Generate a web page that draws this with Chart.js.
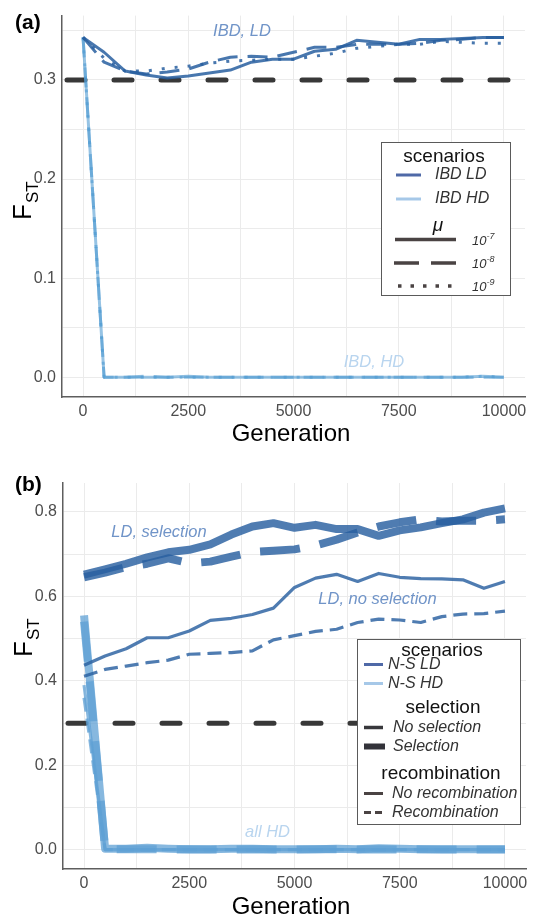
<!DOCTYPE html>
<html><head><meta charset="utf-8">
<script src="https://cdn.jsdelivr.net/npm/chart.js@4.4.1/dist/chart.umd.min.js"></script>
<style>
html,body{margin:0;padding:0;background:#fff;}
#wrap{position:relative;width:535px;height:915px;overflow:hidden;background:#fff;}
#ca{position:absolute;left:0;top:0;}
#cb{position:absolute;left:0;top:450px;}
</style></head><body>
<div id="wrap"><canvas id="ca" width="535" height="450"></canvas><canvas id="cb" width="535" height="465"></canvas></div>
<script>
// ---------- data ----------
const generations = [0,500,1000,1500,2000,2500,3000,3500,4000,4500,5000,5500,6000,6500,7000,7500,8000,8500,9000,9500,10000];
const xGridValues = [0,1250,2500,3750,5000,6250,7500,8750,10000];
const xTickLabels = [0,2500,5000,7500,10000];
const yGridA = [0,0.05,0.1,0.15,0.2,0.25,0.3,0.35];
const yTicksA = [0,0.1,0.2,0.3];
const yGridB = [0,0.1,0.2,0.3,0.4,0.5,0.6,0.7,0.8];
const yTicksB = [0,0.2,0.4,0.6,0.8];
const referenceFst = 0.3;

// panel (a): IBD scenarios, three mutation rates
const ibdLD_mu7 = [0.343,0.328,0.309,0.305,0.302,0.304,0.307,0.310,0.318,0.321,0.321,0.329,0.331,0.340,0.338,0.336,0.341,0.341,0.342,0.343,0.343];
const ibdLD_mu8 = [0.343,0.318,0.309,0.306,0.308,0.311,0.318,0.323,0.324,0.323,0.328,0.333,0.333,0.336,0.336,0.336,0.337,0.340,0.341,0.343,0.343];
const ibdLD_mu9 = [0.343,0.322,0.309,0.309,0.312,0.314,0.317,0.319,0.320,0.321,0.321,0.324,0.327,0.332,0.334,0.336,0.336,0.339,0.338,0.337,0.337];
const ibdHD_mu7 = [0.343,0.000,0.000,0.000,0.000,0.001,0.000,0.000,0.000,0.000,0.000,0.000,0.000,0.000,0.000,0.000,0.000,0.000,0.000,0.001,0.000];
const ibdHD_mu8 = [0.343,0.000,0.000,0.001,0.000,0.000,0.000,0.000,0.000,0.000,0.000,0.000,0.000,0.000,0.000,0.000,0.000,0.000,0.000,0.000,0.000];
const ibdHD_mu9 = [0.343,0.000,0.000,0.000,0.000,0.000,0.000,0.000,0.000,0.000,0.000,0.000,0.000,0.000,0.000,0.000,0.000,0.000,0.000,0.001,0.000];

// panel (b): N-S scenarios, selection x recombination
const nsLD_sel_norec   = [0.651,0.664,0.677,0.692,0.704,0.710,0.723,0.746,0.765,0.773,0.762,0.769,0.759,0.759,0.743,0.756,0.763,0.773,0.782,0.798,0.808];
const nsLD_sel_rec     = [0.645,0.656,0.669,0.677,0.690,0.678,0.682,0.694,0.705,0.708,0.711,0.720,0.734,0.751,0.765,0.775,0.782,0.777,0.779,0.779,0.782];
const nsLD_nosel_norec = [0.437,0.459,0.476,0.502,0.502,0.518,0.543,0.548,0.557,0.572,0.621,0.643,0.652,0.635,0.654,0.645,0.642,0.641,0.639,0.619,0.635];
const nsLD_nosel_rec   = [0.411,0.427,0.435,0.443,0.449,0.463,0.465,0.467,0.471,0.497,0.507,0.517,0.522,0.538,0.546,0.544,0.538,0.552,0.558,0.559,0.565];
const nsHD_sel_norec   = [0.555,0.003,0.003,0.005,0.003,0.002,0.002,0.003,0.003,0.002,0.002,0.002,0.003,0.002,0.004,0.003,0.002,0.002,0.002,0.002,0.002];
const nsHD_sel_rec     = [0.540,0.002,0.002,0.002,0.001,0.002,0.001,0.001,0.002,0.001,0.001,0.002,0.002,0.001,0.002,0.001,0.002,0.001,0.001,0.001,0.001];
const nsHD_nosel_norec = [0.390,0.001,0.001,0.001,0.001,0.001,0.001,0.001,0.001,0.001,0.001,0.001,0.001,0.001,0.001,0.001,0.001,0.001,0.001,0.001,0.001];
const nsHD_nosel_rec   = [0.360,0.001,0.001,0.001,0.001,0.001,0.001,0.001,0.001,0.001,0.001,0.001,0.001,0.001,0.001,0.001,0.001,0.001,0.001,0.001,0.001];

// ---------- styling ----------
const FONT = '"Liberation Sans", Arial, Helvetica, sans-serif';
const LD_COL = 'rgba(40,95,160,0.82)';
const HD_COL = 'rgba(95,160,212,0.75)';
const HD_COL_A = 'rgba(80,155,210,0.6)';
const REF_COL = '#383838';

function series(values, color, width, dash) {
  return {
    data: generations.map((g, i) => ({x: g, y: values[i]})),
    borderColor: color, borderWidth: width, borderDash: dash || [],
    borderJoinStyle: 'round', borderCapStyle: 'butt',
    pointRadius: 0, pointHoverRadius: 0, tension: 0, fill: false
  };
}
function refLine(level) {
  return {
    data: [{x: -500, y: level}, {x: 10500, y: level}],
    borderColor: REF_COL, borderWidth: 5, borderDash: [18, 29], borderDashOffset: -5,
    borderCapStyle: 'round', pointRadius: 0, pointHoverRadius: 0, fill: false
  };
}
function isTick(list, v) { return list.some(t => Math.abs(t - v) < 1e-9); }

function scalesFor(yMin, yMax, yGrid, yTicks, yWidth, xHeight) {
  return {
    x: {
      type: 'linear', min: -500, max: 10500,
      afterBuildTicks: s => { s.ticks = xGridValues.map(v => ({value: v})); },
      ticks: {autoSkip: false, maxRotation: 0, padding: 5,
              color: '#4d4d4d', font: {family: FONT, size: 16},
              callback: v => isTick(xTickLabels, v) ? String(v) : ''},
      grid: {color: '#ebebeb', lineWidth: 1, drawTicks: false},
      border: {display: true, color: '#5e5e5e', width: 1.5},
      afterFit: s => { s.height = xHeight; }
    },
    y: {
      type: 'linear', min: yMin, max: yMax,
      afterBuildTicks: s => { s.ticks = yGrid.map(v => ({value: v})); },
      ticks: {autoSkip: false, padding: 6,
              color: '#4d4d4d', font: {family: FONT, size: 16},
              callback: v => isTick(yTicks, v) ? v.toFixed(1) : ''},
      grid: {color: '#ebebeb', lineWidth: 1, drawTicks: false},
      border: {display: true, color: '#5e5e5e', width: 1.5},
      afterFit: s => { s.width = yWidth; }
    }
  };
}

// ---------- drawing helpers ----------
function txt(ctx, s, x, y, font, color, align, base) {
  ctx.font = font; ctx.fillStyle = color; ctx.textAlign = align || 'left';
  ctx.textBaseline = base || 'middle'; ctx.fillText(s, x, y);
}
function seg(ctx, x1, x2, y, w, color, dash, cap) {
  ctx.save(); ctx.beginPath(); ctx.setLineDash(dash || []); ctx.lineCap = cap || 'butt';
  ctx.strokeStyle = color; ctx.lineWidth = w; ctx.moveTo(x1, y); ctx.lineTo(x2, y); ctx.stroke(); ctx.restore();
}
function fst(ctx, xBase, yStart) {
  ctx.save(); ctx.translate(xBase, yStart); ctx.rotate(-Math.PI / 2);
  ctx.fillStyle = '#000'; ctx.textAlign = 'left'; ctx.textBaseline = 'alphabetic';
  ctx.font = '26px ' + FONT; ctx.fillText('F', 0, 0);
  const w = ctx.measureText('F').width;
  ctx.font = '17px ' + FONT; ctx.fillText('ST', w + 1, 7);
  ctx.restore();
}
function power(ctx, x, y, exp) {
  ctx.font = 'italic 13px ' + FONT; ctx.fillStyle = '#333'; ctx.textAlign = 'left'; ctx.textBaseline = 'middle';
  ctx.fillText('10', x, y);
  const w = ctx.measureText('10').width;
  ctx.font = 'italic 9px ' + FONT; ctx.fillText(exp, x + w, y - 5);
}
function box(ctx, x1, y1, x2, y2) {
  ctx.fillStyle = '#fff'; ctx.fillRect(x1, y1, x2 - x1, y2 - y1);
  ctx.strokeStyle = '#5a5a5a'; ctx.lineWidth = 1; ctx.strokeRect(x1 + 0.5, y1 + 0.5, x2 - x1 - 1, y2 - y1 - 1);
}

// ---------- panel (a) ----------
const plugA = {
  id: 'annotA',
  afterDraw(chart) {
    const ctx = chart.ctx; ctx.save();
    txt(ctx, '(a)', 15, 23, 'bold 21px ' + FONT, '#000');
    fst(ctx, 31, 220);
    txt(ctx, 'Generation', 291, 434, '24px ' + FONT, '#000', 'center');
    txt(ctx, 'IBD, LD', 242, 31, 'italic 16.5px ' + FONT, '#7094c8', 'center');
    txt(ctx, 'IBD, HD', 374, 362, 'italic 16.5px ' + FONT, '#b9d5ef', 'center');
    // legend
    box(ctx, 381, 142, 511, 296);
    txt(ctx, 'scenarios', 444, 157, '19px ' + FONT, '#111', 'center');
    seg(ctx, 396, 421, 175, 3, '#4f69a7');
    txt(ctx, 'IBD LD', 435, 175, 'italic 16px ' + FONT, '#333');
    seg(ctx, 396, 421, 199, 3, '#a6c8e8');
    txt(ctx, 'IBD HD', 435, 199, 'italic 16px ' + FONT, '#333');
    txt(ctx, 'μ', 438, 226, 'italic 19px ' + FONT, '#111', 'center');
    seg(ctx, 395, 456, 239.5, 3.5, '#4a4343');
    power(ctx, 472, 241, '-7');
    seg(ctx, 394, 456, 263, 3.5, '#4a4343', [25, 12]);
    power(ctx, 472, 264, '-8');
    seg(ctx, 398, 456, 286, 3.5, '#4a4343', [3.5, 9]);
    power(ctx, 472, 287, '-9');
    ctx.restore();
  }
};

new Chart(document.getElementById('ca'), {
  type: 'line',
  data: {datasets: [
    series(ibdLD_mu7, 'rgba(40,95,160,0.85)', 3),
    series(ibdLD_mu8, 'rgba(40,95,160,0.85)', 3, [20, 10]),
    series(ibdLD_mu9, 'rgba(40,95,160,0.85)', 3, [3, 10]),
    series(ibdHD_mu7, HD_COL_A, 3),
    series(ibdHD_mu8, HD_COL_A, 3, [20, 10]),
    series(ibdHD_mu9, HD_COL_A, 3, [3, 10]),
    refLine(referenceFst)
  ]},
  options: {
    responsive: false, animation: false, devicePixelRatio: 1,
    layout: {padding: {left: 0, right: 10, top: 11, bottom: 0}},
    plugins: {legend: {display: false}, tooltip: {enabled: false}},
    scales: scalesFor(-0.02, 0.365, yGridA, yTicksA, 62, 53)
  },
  plugins: [plugA]
});

// ---------- panel (b) ----------
const OB = 450;
const plugB = {
  id: 'annotB',
  afterDraw(chart) {
    const ctx = chart.ctx; ctx.save();
    txt(ctx, '(b)', 15, 485 - OB, 'bold 21px ' + FONT, '#000');
    fst(ctx, 32, 657 - OB);
    txt(ctx, 'Generation', 291, 907 - OB, '24px ' + FONT, '#000', 'center');
    txt(ctx, 'LD, selection', 159, 532.5 - OB, 'italic 16.5px ' + FONT, '#7094c8', 'center');
    txt(ctx, 'LD, no selection', 377.5, 599 - OB, 'italic 16.5px ' + FONT, '#7094c8', 'center');
    txt(ctx, 'all HD', 267.5, 832 - OB, 'italic 16.5px ' + FONT, '#b9d5ef', 'center');
    // legend
    box(ctx, 357, 639 - OB, 521, 825 - OB);
    txt(ctx, 'scenarios', 442, 651 - OB, '19px ' + FONT, '#111', 'center');
    seg(ctx, 364, 383, 664.5 - OB, 3, '#4f69a7');
    txt(ctx, 'N-S LD', 388, 664.5 - OB, 'italic 16px ' + FONT, '#333');
    seg(ctx, 364, 383, 683.5 - OB, 3, '#a6c8e8');
    txt(ctx, 'N-S HD', 388, 683.5 - OB, 'italic 16px ' + FONT, '#333');
    txt(ctx, 'selection', 443, 708 - OB, '19px ' + FONT, '#111', 'center');
    seg(ctx, 364, 383, 727.5 - OB, 3.5, '#38383c');
    txt(ctx, 'No selection', 393, 727.5 - OB, 'italic 16px ' + FONT, '#333');
    seg(ctx, 364, 385, 746.5 - OB, 6, '#33333a');
    txt(ctx, 'Selection', 393, 746.5 - OB, 'italic 16px ' + FONT, '#333');
    txt(ctx, 'recombination', 441, 774 - OB, '19px ' + FONT, '#111', 'center');
    seg(ctx, 364, 383, 793.5 - OB, 3, '#4a4343');
    txt(ctx, 'No recombination', 392, 793.5 - OB, 'italic 16px ' + FONT, '#333');
    seg(ctx, 364, 383, 812.5 - OB, 3, '#4a4343', [7, 4]);
    txt(ctx, 'Recombination', 392, 812.5 - OB, 'italic 16px ' + FONT, '#333');
    ctx.restore();
  }
};

new Chart(document.getElementById('cb'), {
  type: 'line',
  data: {datasets: [
    series(nsLD_sel_norec, LD_COL, 8),
    series(nsLD_sel_rec, LD_COL, 8, [40, 20]),
    series(nsLD_nosel_norec, LD_COL, 3.2),
    series(nsLD_nosel_rec, LD_COL, 3.2, [14, 7]),
    series(nsHD_sel_norec, HD_COL, 8),
    series(nsHD_sel_rec, HD_COL, 8, [40, 20]),
    series(nsHD_nosel_norec, HD_COL, 3.2),
    series(nsHD_nosel_rec, HD_COL, 3.2, [14, 7]),
    refLine(referenceFst)
  ]},
  options: {
    responsive: false, animation: false, devicePixelRatio: 1,
    layout: {padding: {left: 0, right: 9, top: 33, bottom: 0}},
    plugins: {legend: {display: false}, tooltip: {enabled: false}},
    scales: scalesFor(-0.045, 0.868, yGridB, yTicksB, 63, 46)
  },
  plugins: [plugB]
});
</script></body></html>
